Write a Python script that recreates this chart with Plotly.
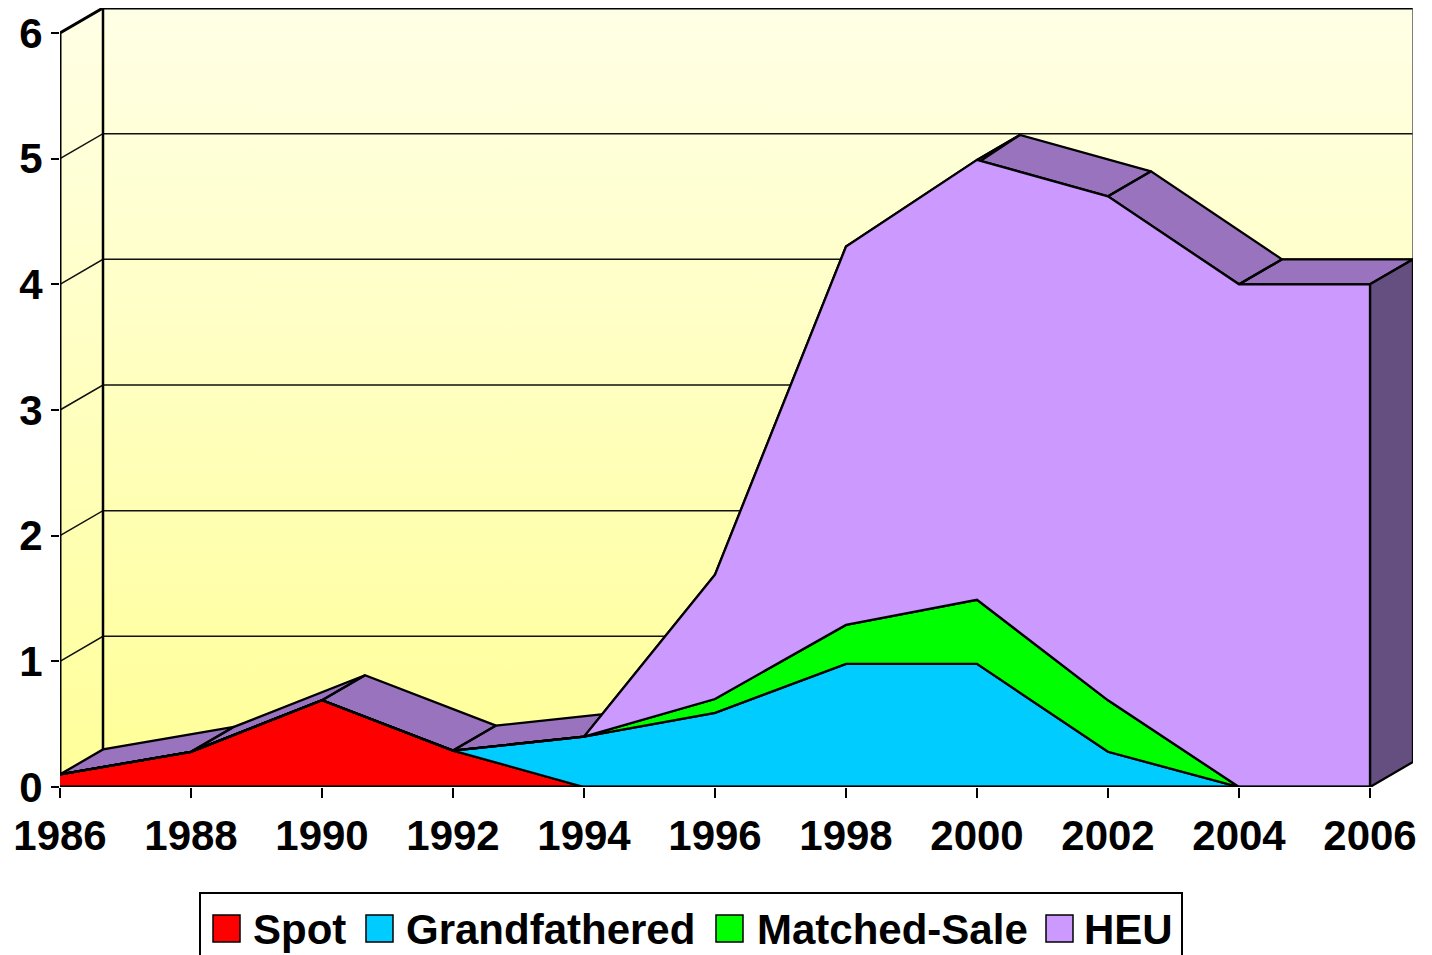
import plotly.graph_objects as go

# ---------------- data ----------------
years = [1986, 1988, 1990, 1992, 1994, 1996, 1998, 2000, 2002, 2004, 2006]
spot = [0.1, 0.28, 0.69, 0.29, 0, 0, 0, 0, 0, 0, 0]
grandfathered = [0, 0, 0, 0, 0.4, 0.59, 0.98, 0.98, 0.28, 0, 0]
matched_sale = [0, 0, 0, 0, 0, 0.11, 0.31, 0.51, 0.41, 0, 0]
heu = [0, 0, 0, 0, 0, 0.99, 3.01, 3.5, 4.01, 4.0, 4.0]
series_names = ["Spot", "Grandfathered", "Matched-Sale", "HEU"]
y_ticks = [0, 1, 2, 3, 4, 5, 6]

# ---------------- style / geometry ----------------
colors = ["#FF0000", "#00CCFF", "#00FF00", "#CC99FF"]
TOP_COLOR = "#9A73BF"
SIDE_COLOR = "#654F80"
OFF = 8                       # page body margin of the browser
W, H = 1432 - OFF, 955 - OFF
L, R, T = 60 - OFF, 19, 0
PLOT_BOTTOM = 787 - OFF
B = H - PLOT_BOTTOM
PW, PH = W - L - R, PLOT_BOTTOM - T
PX_PER_YEAR = 65.5
PX_PER_UNIT = 125.67
X0, X1 = years[0], years[-1]
X_RANGE = [X0, X0 + PW / PX_PER_YEAR]
Y_RANGE = [0, PH / PX_PER_UNIT]
DX = 43 / PX_PER_YEAR          # depth offset in x units
DY = 25 / PX_PER_UNIT          # depth offset in y units
YMAX = y_ticks[-1]
FONT = dict(family="Liberation Sans, Arial, sans-serif", size=42, color="black", weight="bold")
LW = 2.3

fig = go.Figure()

wall_grad = dict(type="vertical", colorscale=[[0, "#FFFF99"], [1, "#FFFFE6"]])

# back wall
fig.add_trace(go.Scatter(
    x=[X0 + DX, X1 + DX, X1 + DX, X0 + DX, X0 + DX],
    y=[DY, DY, YMAX + DY, YMAX + DY, DY],
    mode="lines", fill="toself", fillgradient=dict(wall_grad, start=DY, stop=YMAX + DY),
    line=dict(width=0, color="rgba(0,0,0,0)"), hoverinfo="skip", cliponaxis=False))
# left wall
fig.add_trace(go.Scatter(
    x=[X0, X0, X0 + DX, X0 + DX, X0],
    y=[0, YMAX, YMAX + DY, DY, 0],
    mode="lines", fill="toself", fillgradient=dict(wall_grad, start=0, stop=YMAX + DY),
    line=dict(width=0, color="rgba(0,0,0,0)"), hoverinfo="skip", cliponaxis=False))

# gridlines
gx, gy = [], []
for v in y_ticks[1:-1]:
    gx += [X0, X0 + DX, X1 + DX, None]
    gy += [v, v + DY, v + DY, None]
fig.add_trace(go.Scatter(x=gx, y=gy, mode="lines", line=dict(color="#111111", width=1.5),
                         hoverinfo="skip", cliponaxis=False))

# wall edges
fig.add_trace(go.Scatter(x=[X0, X0, X0 + DX, X1 + DX], y=[0, YMAX, YMAX + DY, YMAX + DY],
                         mode="lines", line=dict(color="black", width=3), hoverinfo="skip", cliponaxis=False))
fig.add_trace(go.Scatter(x=[X0 + DX, X0 + DX], y=[DY, YMAX + DY],
                         mode="lines", line=dict(color="black", width=2.5), hoverinfo="skip", cliponaxis=False))
fig.add_trace(go.Scatter(x=[X1 + DX, X1 + DX], y=[DY, YMAX + DY],
                         mode="lines", line=dict(color="#555555", width=1.5), hoverinfo="skip", cliponaxis=False))

# cumulative stacks
stacks = [spot, grandfathered, matched_sale, heu]
cum = []
run = [0.0] * len(years)
for s in stacks:
    lower = run[:]
    run = [a + b for a, b in zip(run, s)]
    cum.append((lower, run[:]))
total = cum[-1][1]

# top faces (depth strip along the total line)
tx, ty = [], []
for i in range(len(years) - 1):
    xa, xb = years[i], years[i + 1]
    ya, yb = total[i], total[i + 1]
    tx += [xa, xb, xb + DX, xa + DX, xa, None]
    ty += [ya, yb, yb + DY, ya + DY, ya, None]
fig.add_trace(go.Scatter(x=tx, y=ty, mode="lines", fill="toself", fillcolor=TOP_COLOR,
                         line=dict(color="black", width=LW), hoverinfo="skip", cliponaxis=False))

# right side face
fig.add_trace(go.Scatter(
    x=[X1, X1 + DX, X1 + DX, X1, X1],
    y=[total[-1], total[-1] + DY, DY, 0, total[-1]],
    mode="lines", fill="toself", fillcolor=SIDE_COLOR,
    line=dict(color="black", width=LW), hoverinfo="skip", cliponaxis=False))

# front faces
for name, col, (lo, hi) in zip(series_names, colors, cum):
    fig.add_trace(go.Scatter(
        x=years + years[::-1], y=hi + lo[::-1],
        mode="lines", fill="toself", fillcolor=col, name=name,
        line=dict(color="black", width=LW), cliponaxis=False))

# front baseline
fig.add_trace(go.Scatter(x=[X0, X1], y=[0, 0], mode="lines",
                         line=dict(color="black", width=3), hoverinfo="skip", cliponaxis=False))

# ---------------- manual legend (positions in screen pixels) ----------------
def xp(px):
    return (px - OFF - L) / PW

def yp(py):
    return (PLOT_BOTTOM - (py - OFF)) / PH

shapes = [dict(type="rect", xref="paper", yref="paper",
               x0=xp(200), x1=xp(1182), y0=yp(962), y1=yp(893),
               line=dict(color="black", width=2), fillcolor="white", layer="above")]
annotations = []
sq_x = [213, 366, 716, 1046]
txt_x = [251, 404, 755, 1082]
for name, col, sx, tx_ in zip(series_names, colors, sq_x, txt_x):
    shapes.append(dict(type="rect", xref="paper", yref="paper",
                       x0=xp(sx), x1=xp(sx + 27), y0=yp(942), y1=yp(915),
                       line=dict(color="black", width=1.5), fillcolor=col, layer="above"))
    annotations.append(dict(xref="paper", yref="paper", x=xp(tx_), y=yp(929),
                            text=name, showarrow=False, xanchor="left", yanchor="middle",
                            font=FONT))

fig.update_layout(
    width=W, height=H,
    margin=dict(l=L, r=R, t=T, b=B, pad=0),
    paper_bgcolor="white", plot_bgcolor="white",
    showlegend=False,
    shapes=shapes, annotations=annotations,
    xaxis=dict(range=X_RANGE, tickvals=years, ticktext=[str(y) for y in years],
               ticks="outside", ticklen=10, tickwidth=2, tickcolor="black",
               showgrid=False, zeroline=False, showline=False, tickfont=FONT,
               ticklabelstandoff=2, fixedrange=True),
    yaxis=dict(range=Y_RANGE, tickvals=y_ticks, ticktext=[str(v) for v in y_ticks],
               ticks="outside", ticklen=8, tickwidth=2, tickcolor="black",
               showgrid=False, zeroline=False, showline=False, tickfont=FONT,
               fixedrange=True),
)

fig.write_html("out.html")
